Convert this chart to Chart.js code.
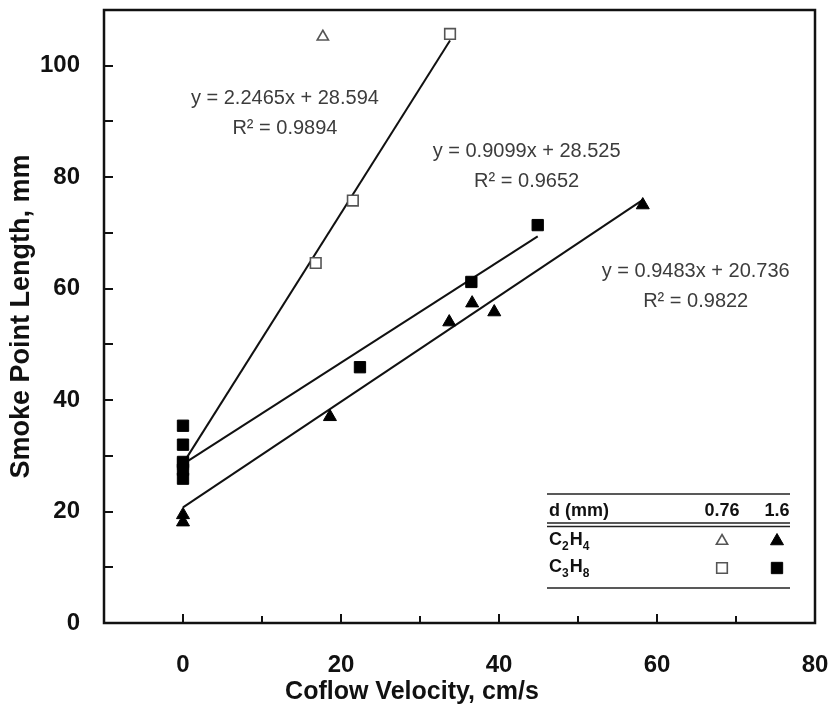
<!DOCTYPE html>
<html>
<head>
<meta charset="utf-8">
<title>Smoke Point Length vs Coflow Velocity</title>
<script src="https://cdn.jsdelivr.net/npm/chart.js@4.4.0/dist/chart.umd.min.js"></script>
<style>
  html, body { margin: 0; padding: 0; background: #fff; }
  canvas { display: block; }
</style>
</head>
<body>
<canvas id="chart" width="833" height="711"></canvas>
<script>
// Datos (velocidad de coflujo en cm/s, longitud en mm)
const c2h4SmallX = [17.7];
const c2h4SmallY = [105.2];

const c3h8SmallX = [0, 16.8, 21.5, 33.8];
const c3h8SmallY = [28.6, 64.6, 75.8, 105.7];

const c3h8LargeX = [0, 0, 0, 0, 0, 22.4, 36.5, 44.9];
const c3h8LargeY = [35.4, 32.0, 28.9, 27.5, 25.9, 45.9, 61.2, 71.4];

const c2h4LargeX = [0, 0, 18.6, 33.7, 36.6, 39.4, 58.2];
const c2h4LargeY = [19.4, 18.1, 37.0, 54.0, 57.4, 55.8, 75.0];

// Líneas de tendencia (como aparecen en el gráfico)
const fitSlopes = [2.2465, 0.9099, 0.9483];
const fitIntercepts = [28.594, 28.525, 20.736];
const fitR2 = ['0.9894', '0.9652', '0.9822'];

// Ejes
const xTickLabels = [0, 20, 40, 60, 80];
const yTickLabels = [0, 20, 40, 60, 80, 100];

// Tabla de leyenda
const legendHeader = ['d (mm)', '0.76', '1.6'];
const legendFuels = [['C', '2', 'H', '4'], ['C', '3', 'H', '8']];

function toPoints(xs, ys) {
  return xs.map((x, i) => ({ x: x, y: ys[i] }));
}

function fitLine(k, xs) {
  const xEnd = Math.max(...xs);
  return [
    { x: 0, y: fitIntercepts[k] },
    { x: xEnd, y: fitSlopes[k] * xEnd + fitIntercepts[k] }
  ];
}

const openStyle = { pointBackgroundColor: '#fff', pointBorderColor: '#555', pointBorderWidth: 1.6 };
const fillStyle = { pointBackgroundColor: '#000', pointBorderColor: '#000', pointBorderWidth: 1 };

// Posición de las ecuaciones (en coordenadas de datos)
const eqPos = [
  { x: 12.9, y: 94.1, dy: 30 },
  { x: 43.5, y: 84.6, dy: 30 },
  { x: 64.9, y: 63.0, dy: 30 }
];

const decorPlugin = {
  id: 'decor',
  afterDraw(chart) {
    const { ctx, chartArea: a, scales: { x, y } } = chart;
    ctx.save();

    // Marco y marcas hacia adentro
    ctx.strokeStyle = '#111';
    ctx.lineWidth = 2.5;
    ctx.strokeRect(a.left, a.top, a.right - a.left, a.bottom - a.top);
    ctx.lineWidth = 2;
    x.ticks.forEach(t => {
      if (t.value <= x.min || t.value >= x.max) return;
      const px = Math.round(x.getPixelForValue(t.value));
      const len = t.value % 20 === 0 ? 9 : 7;
      ctx.beginPath();
      ctx.moveTo(px, a.bottom);
      ctx.lineTo(px, a.bottom - len);
      ctx.stroke();
    });
    y.ticks.forEach(t => {
      if (t.value <= y.min || t.value >= y.max) return;
      const py = Math.round(y.getPixelForValue(t.value));
      ctx.beginPath();
      ctx.moveTo(a.left, py);
      ctx.lineTo(a.left + 9, py);
      ctx.stroke();
    });

    // Título del eje x
    ctx.fillStyle = '#111';
    ctx.font = 'bold 25px "Liberation Sans", Arial, sans-serif';
    ctx.textAlign = 'center';
    ctx.textBaseline = 'middle';
    ctx.fillText('Coflow Velocity, cm/s', 412, 692);

    // Ecuaciones de las líneas de tendencia
    ctx.fillStyle = '#3c3c3c';
    ctx.font = '20px "Liberation Sans", Arial, sans-serif';
    eqPos.forEach((p, k) => {
      const px = x.getPixelForValue(p.x);
      const py = y.getPixelForValue(p.y);
      ctx.fillText('y = ' + fitSlopes[k] + 'x + ' + fitIntercepts[k], px, py);
      ctx.fillText('R\u00B2 = ' + fitR2[k], px, py + p.dy);
    });

    // Tabla de leyenda
    const tl = 547, tr = 790, c1 = 722, c2 = 777;
    ctx.strokeStyle = '#222';
    ctx.lineWidth = 1.5;
    [494, 523, 526.5, 588].forEach(ry => {
      ctx.beginPath();
      ctx.moveTo(tl, ry);
      ctx.lineTo(tr, ry);
      ctx.stroke();
    });
    ctx.fillStyle = '#111';
    ctx.font = 'bold 18px "Liberation Sans", Arial, sans-serif';
    ctx.textAlign = 'left';
    ctx.fillText(legendHeader[0], 549, 511);
    ctx.textAlign = 'center';
    ctx.fillText(legendHeader[1], c1, 511);
    ctx.fillText(legendHeader[2], c2, 511);

    const rows = [540, 567];
    const styles = [
      [{ pointStyle: 'triangle', radius: 6.5, ...openStyle }, { pointStyle: 'triangle', radius: 7.5, ...fillStyle }],
      [{ pointStyle: 'rect', radius: 7.5, ...openStyle }, { pointStyle: 'rect', radius: 8, ...fillStyle }]
    ];
    legendFuels.forEach((parts, r) => {
      let cx = 549;
      ctx.textAlign = 'left';
      parts.forEach((s, i) => {
        const sub = i % 2 === 1;
        ctx.font = sub ? 'bold 12px "Liberation Sans", Arial, sans-serif'
                       : 'bold 18px "Liberation Sans", Arial, sans-serif';
        ctx.fillText(s, cx, rows[r] + (sub ? 7 : 0));
        cx += ctx.measureText(s).width + (sub ? 1 : 0);
      });
      [c1, c2].forEach((cx2, j) => {
        const st = styles[r][j];
        ctx.fillStyle = st.pointBackgroundColor;
        ctx.strokeStyle = st.pointBorderColor;
        ctx.lineWidth = st.pointBorderWidth;
        Chart.helpers.drawPoint(ctx, { pointStyle: st.pointStyle, radius: st.radius, rotation: 0, borderWidth: st.pointBorderWidth }, cx2, rows[r] + 1);
        ctx.fillStyle = '#111';
      });
    });

    ctx.restore();
  }
};

const ctx = document.getElementById('chart').getContext('2d');
const chart = new Chart(ctx, {
  type: 'scatter',
  data: {
    datasets: [
      {
        label: 'C3H8 0.76 fit', data: fitLine(0, c3h8SmallX), showLine: true,
        borderColor: '#111', borderWidth: 2, pointRadius: 0, order: 10
      },
      {
        label: 'C3H8 1.6 fit', data: fitLine(1, c3h8LargeX), showLine: true,
        borderColor: '#111', borderWidth: 2, pointRadius: 0, order: 10
      },
      {
        label: 'C2H4 1.6 fit', data: fitLine(2, c2h4LargeX), showLine: true,
        borderColor: '#111', borderWidth: 2, pointRadius: 0, order: 10
      },
      {
        label: 'C2H4 0.76', data: toPoints(c2h4SmallX, c2h4SmallY),
        pointStyle: 'triangle', pointRadius: 6.5, ...openStyle, order: 2
      },
      {
        label: 'C3H8 0.76', data: toPoints(c3h8SmallX, c3h8SmallY),
        pointStyle: 'rect', pointRadius: 7.5, ...openStyle, order: 2
      },
      {
        label: 'C3H8 1.6', data: toPoints(c3h8LargeX, c3h8LargeY),
        pointStyle: 'rect', pointRadius: 8, ...fillStyle, order: 1
      },
      {
        label: 'C2H4 1.6', data: toPoints(c2h4LargeX, c2h4LargeY),
        pointStyle: 'triangle', pointRadius: 7.5, ...fillStyle, order: 1
      }
    ]
  },
  options: {
    responsive: false,
    animation: false,
    layout: { padding: { top: 10, right: 18, left: 0, bottom: 0 } },
    plugins: {
      legend: { display: false },
      tooltip: { enabled: false }
    },
    scales: {
      x: {
        type: 'linear',
        min: -10,
        max: 80,
        grid: { display: false, drawTicks: false },
        border: { display: false },
        ticks: {
          stepSize: 10,
          padding: 28,
          color: '#111',
          font: { family: '"Liberation Sans", Arial, sans-serif', size: 24, weight: 'bold' },
          callback: v => xTickLabels.includes(v) ? v : ''
        },
        afterFit: s => {
          s.height = 88;
          s.paddingLeft = 0;
          s.paddingRight = 0;
        }
      },
      y: {
        type: 'linear',
        min: 0,
        max: 110,
        grid: { display: false, drawTicks: false },
        border: { display: false },
        ticks: {
          stepSize: 10,
          padding: 24,
          color: '#111',
          font: { family: '"Liberation Sans", Arial, sans-serif', size: 24, weight: 'bold' },
          callback: v => yTickLabels.includes(v) ? v : ''
        },
        title: {
          display: true,
          text: 'Smoke Point Length, mm',
          color: '#111',
          padding: { top: 5, bottom: 0 },
          font: { family: '"Liberation Sans", Arial, sans-serif', size: 27, weight: 'bold' }
        },
        afterFit: s => {
          s.width = 104;
          s.paddingTop = 0;
          s.paddingBottom = 0;
        }
      }
    }
  },
  plugins: [decorPlugin]
});
</script>
</body>
</html>
